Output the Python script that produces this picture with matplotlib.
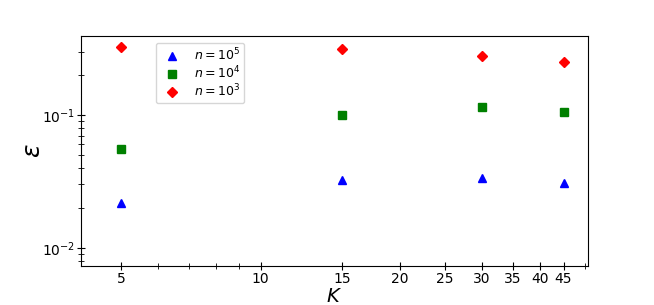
import matplotlib
matplotlib.use("Agg")
import matplotlib.pyplot as plt
from matplotlib.ticker import FixedLocator, NullFormatter, FixedFormatter

K = [5, 15, 30, 45]
eps_n5 = [0.0218, 0.0325, 0.0336, 0.0309]
eps_n4 = [0.0555, 0.100, 0.115, 0.105]
eps_n3 = [0.324, 0.314, 0.278, 0.250]
xtick_vals = [5, 10, 15, 20, 25, 30, 35, 40, 45]
xtick_labels = ["5", "10", "15", "20", "25", "30", "35", "40", "45"]

fig = plt.figure(figsize=(6.54, 3.05), dpi=100)
ax = fig.add_axes([0.124, 0.128, 0.775, 0.754])

ax.plot(K, eps_n5, linestyle="none", marker="^", color="blue", markersize=5.5, label=r"$n=10^5$")
ax.plot(K, eps_n4, linestyle="none", marker="s", color="green", markersize=5.5, label=r"$n=10^4$")
ax.plot(K, eps_n3, linestyle="none", marker="D", color="red", markersize=5.5, label=r"$n=10^3$")

ax.set_xscale("log")
ax.set_yscale("log")
ax.set_xlim(4.1, 50.8)
ax.set_ylim(0.0073, 0.393)

ax.xaxis.set_major_locator(FixedLocator(xtick_vals))
ax.xaxis.set_major_formatter(FixedFormatter(xtick_labels))
ax.xaxis.set_minor_locator(FixedLocator([6, 7, 8, 9, 50]))
ax.xaxis.set_minor_formatter(NullFormatter())

ax.tick_params(which="both", direction="inout", pad=1.5)
ax.tick_params(which="major", length=5.5)
ax.tick_params(which="minor", length=5)

ax.set_xlabel(r"$K$", fontsize=14, labelpad=1)
ax.set_ylabel(r"$\varepsilon$", fontsize=18, labelpad=-2)

ax.legend(loc="upper left", bbox_to_anchor=(0.147, 0.97), fontsize=9,
          handletextpad=0.8, borderpad=0.3, labelspacing=0.12, borderaxespad=0)

fig.savefig("out.png", dpi=100)
